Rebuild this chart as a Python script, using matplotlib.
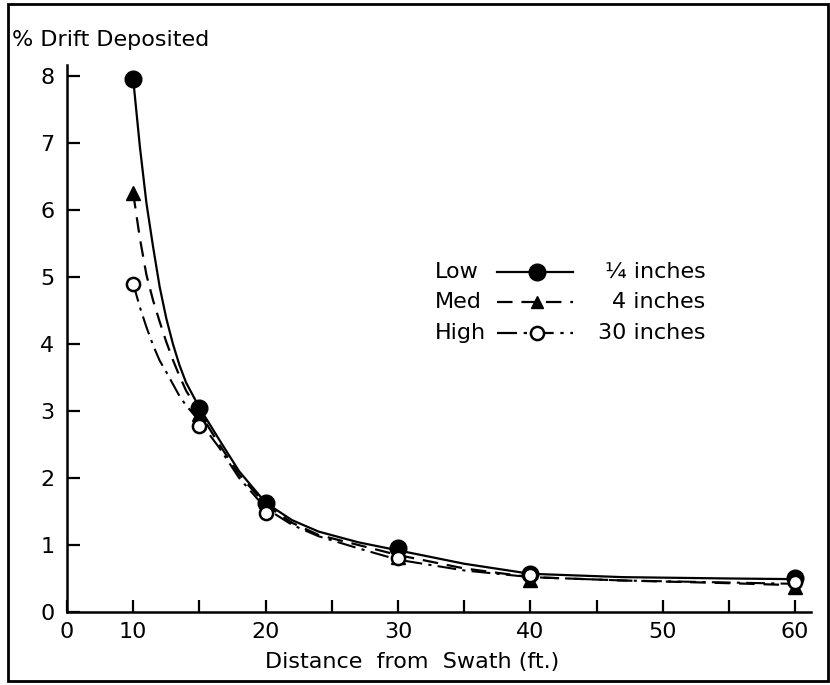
import numpy as np
import matplotlib.pyplot as plt
from matplotlib.patches import Rectangle

# measured points
dist = [10, 15, 20, 30, 40, 60]
low_pts = [7.95, 3.05, 1.63, 0.95, 0.57, 0.50]
med_pts = [6.25, 2.95, 1.60, 0.82, 0.48, 0.38]
high_pts = [4.90, 2.78, 1.47, 0.80, 0.55, 0.45]

# hand-drawn curves
curve_x = [10, 10.5, 11, 11.5, 12, 12.5, 13, 13.5, 14, 15, 16.5, 18, 20, 22, 24, 27,
           30, 35, 40, 47, 55, 60]
low_curve = [7.95, 6.95, 6.10, 5.45, 4.85, 4.38, 4.00, 3.68, 3.42, 3.05, 2.57, 2.10,
             1.63, 1.37, 1.20, 1.04, 0.92, 0.72, 0.57, 0.52, 0.50, 0.49]
med_curve = [6.25, 5.58, 5.03, 4.65, 4.33, 4.03, 3.76, 3.52, 3.30, 2.98, 2.50, 2.05,
             1.60, 1.33, 1.15, 1.00, 0.85, 0.65, 0.52, 0.47, 0.43, 0.40]
high_curve = [4.90, 4.55, 4.25, 3.98, 3.75, 3.58, 3.40, 3.22, 3.08, 2.85, 2.45, 2.00,
              1.55, 1.30, 1.13, 0.95, 0.78, 0.62, 0.52, 0.47, 0.44, 0.42]

xticks = [5, 10, 15, 20, 25, 30, 35, 40, 45, 50, 55, 60]
xticklabels = ['0', '10', '', '20', '', '30', '', '40', '', '50', '', '60']
yticks = [0, 1, 2, 3, 4, 5, 6, 7, 8]

legend_left = ['Low', 'Med', 'High']
legend_right = ['\u00bc inches', '4 inches', '30 inches']

W, H = 830, 685
fig = plt.figure(figsize=(8.3, 6.85), dpi=100)
ax = fig.add_axes([67/W, (H-612)/H, (811-67)/W, (612-65)/H])

dash = (0, (7, 4))
dashdot = (0, (9, 3, 1.5, 3))

ax.plot(curve_x, low_curve, 'k-', lw=1.6)
ax.plot(curve_x, med_curve, color='k', ls=dash, lw=1.6)
ax.plot(curve_x, high_curve, color='k', ls=dashdot, lw=1.5)

ax.plot(dist, med_pts, 'k^', ms=10, zorder=3)
ax.plot(dist, low_pts, 'ko', ms=12, zorder=4)
ax.plot(dist, high_pts, 'o', ms=9.5, mfc='white', mec='k', mew=1.8, zorder=5)

ax.set_xlim(5, 61.2)
ax.set_ylim(0, 8.16)
ax.set_xticks(xticks)
ax.set_xticklabels(xticklabels)
ax.set_yticks(yticks)
ax.tick_params(direction='in', length=9, width=1.6, labelsize=16, pad=7)
ax.tick_params(axis='y', pad=9)
for s in ['top', 'right']:
    ax.spines[s].set_visible(False)
for s in ['left', 'bottom']:
    ax.spines[s].set_linewidth(1.8)

# legend drawn by hand like the original
rows = [0.622, 0.567, 0.510]
styles = [dict(ls='-', marker='o', ms=12, mfc='k'),
          dict(ls=dash, marker='^', ms=9, mfc='k'),
          dict(ls=dashdot, marker='o', ms=9.5, mfc='white', mew=1.8)]
for lab_l, lab_r, yy, st in zip(legend_left, legend_right, rows, styles):
    ax.text(0.495, yy, lab_l, transform=ax.transAxes, fontsize=16, va='center', ha='left')
    ax.plot([0.578, 0.680], [yy, yy], transform=ax.transAxes, color='k', lw=1.6,
            ls=st['ls'], clip_on=False)
    ax.plot([0.632], [yy], transform=ax.transAxes, marker=st['marker'], ms=st['ms'],
            mfc=st['mfc'], mec='k', mew=st.get('mew', 1), ls='none', clip_on=False)
    ax.text(0.858, yy, lab_r, transform=ax.transAxes, fontsize=16, va='center', ha='right')

fig.text(12/W, 1 - 40/H, '% Drift Deposited', fontsize=16, ha='left', va='center')
fig.text(412/W, 1 - 662/H, 'Distance  from  Swath (ft.)', fontsize=16, ha='center', va='center')

fig.patches.append(Rectangle((8/W, 4/H), (828-8)/W, (681-4)/H, transform=fig.transFigure,
                             fill=False, edgecolor='k', lw=2))

fig.savefig('out.png', dpi=100)
